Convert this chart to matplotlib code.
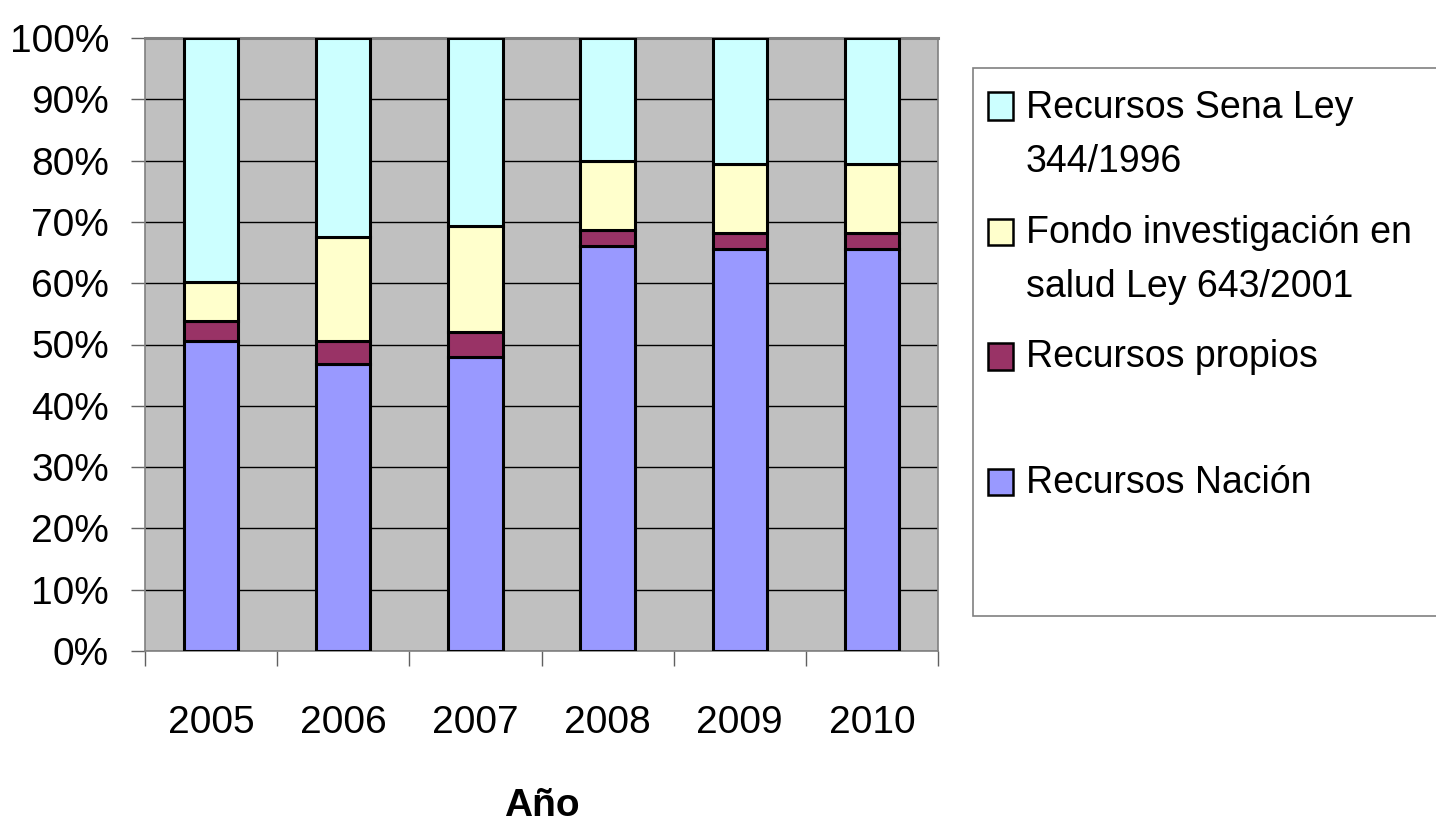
import numpy as np
import matplotlib
matplotlib.use('Agg')
import matplotlib.pyplot as plt
from matplotlib.patches import Rectangle

plt.rcParams['font.family'] = ['Liberation Sans', 'DejaVu Sans']

# values (percent of total per year)
years = ['2005', '2006', '2007', '2008', '2009', '2010']
nacion = [50.6, 46.8, 48.0, 66.1, 65.5, 65.5]
propios = [3.3, 3.8, 4.0, 2.6, 2.7, 2.7]
fondo = [6.3, 17.0, 17.4, 11.3, 11.25, 11.25]
sena = [39.8, 32.4, 30.6, 20.0, 20.55, 20.55]

series_names = ['Recursos Nación', 'Recursos propios',
                'Fondo investigación en\nsalud Ley 643/2001',
                'Recursos Sena Ley\n344/1996']
colors = ['#9999FF', '#993366', '#FFFFCC', '#CCFFFF']

fig = plt.figure(figsize=(14.36, 8.25), dpi=100)
ax = fig.add_axes([145 / 1436, 1 - 651 / 825, (938 - 145) / 1436, (651 - 38) / 825])
ax.set_facecolor('#C0C0C0')

x = np.arange(len(years))
bottom = np.zeros(len(years))
for vals, col in zip([nacion, propios, fondo, sena], colors):
    ax.bar(x, vals, width=0.41, bottom=bottom, color=col, edgecolor='black',
           linewidth=2.2, zorder=3)
    bottom += np.array(vals)

ax.set_xlim(-0.5, len(years) - 0.5)
ax.set_ylim(0, 100)
ax.set_yticks(np.arange(0, 101, 10))
ax.set_yticklabels([f'{v}%' for v in range(0, 101, 10)])
ax.yaxis.grid(True, color='black', linewidth=1.0, zorder=1)
ax.set_axisbelow(True)

ax.set_xticks(x)
ax.set_xticklabels(years)
ax.set_xticks(np.arange(-0.5, len(years)), minor=True)
ax.tick_params(axis='x', which='major', length=0, pad=39, labelsize=28)
ax.tick_params(axis='x', which='minor', length=11, width=1, color='#606060')
ax.tick_params(axis='y', length=10, width=1, color='#606060', pad=16, labelsize=28)

for s in ax.spines.values():
    s.set_color('#808080')
    s.set_linewidth(1.2)
ax.spines['top'].set_linewidth(2.2)

ax.set_xlabel('Año', fontsize=28, fontweight='bold', labelpad=34)

# legend box drawn in figure pixels to match the uneven spacing
def px(xp, yp):
    return xp / 1436, 1 - yp / 825

lx, ly = px(973, 616)
fig.patches.append(Rectangle((lx, ly), (1440 - 973) / 1436, (616 - 68) / 825,
                             transform=fig.transFigure, facecolor='white',
                             edgecolor='#808080', linewidth=1.2))

# (series index, square top, square bottom, baselines of text lines)
legend_rows = [(3, 92, 120, [118, 172]),
               (2, 219, 245, [243, 297]),
               (1, 343, 370, [367]),
               (0, 469, 495, [493])]
for idx, top, bot, baselines in legend_rows:
    sx, sy = px(988, bot)
    fig.patches.append(Rectangle((sx, sy), 25 / 1436, (bot - top) / 825,
                                 transform=fig.transFigure, facecolor=colors[idx],
                                 edgecolor='black', linewidth=1.8))
    for line, b in zip(series_names[idx].split('\n'), baselines):
        tx, ty = px(1026, b)
        fig.text(tx, ty, line, fontsize=27, ha='left', va='baseline')

fig.savefig('out.png', dpi=100)
